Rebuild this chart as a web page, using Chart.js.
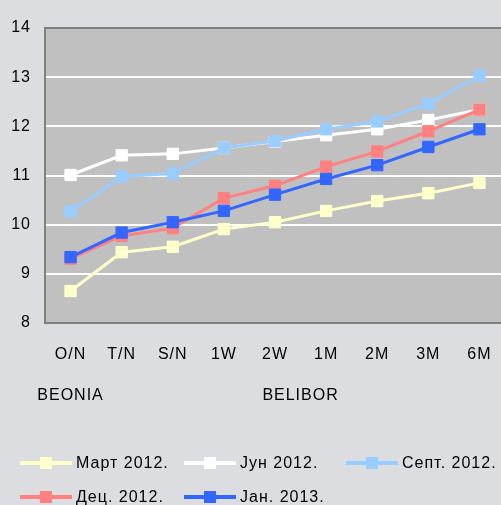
<!DOCTYPE html>
<html>
<head>
<meta charset="utf-8">
<script src="https://cdn.jsdelivr.net/npm/chart.js@4"></script>
<style>
  html, body { margin: 0; padding: 0; background: #dcdde0; overflow: hidden; }
  #wrap { width: 501px; height: 505px; overflow: hidden; }
</style>
</head>
<body>
<div id="wrap"><canvas id="chart" width="514" height="505"></canvas></div>
<script>
// категорије (рочност)
const categories = ['O/N', 'T/N', 'S/N', '1W', '2W', '1M', '2M', '3M', '6M'];

// групе испод осе
const groupLabels = ['BEONIA', 'BELIBOR'];
const groupStart = [0, 1];
const groupEnd = [0, 8];

// серије
const seriesNames = ['Март 2012.', 'Јун 2012.', 'Септ. 2012.', 'Дец. 2012.', 'Јан. 2013.'];
const mart2012 = [8.65, 9.44, 9.55, 9.91, 10.05, 10.28, 10.48, 10.64, 10.85];
const jun2012  = [11.01, 11.41, 11.44, 11.56, 11.69, 11.82, 11.94, 12.13, 12.34];
const sept2012 = [10.27, 10.98, 11.04, 11.56, 11.70, 11.94, 12.10, 12.46, 13.03];
const dec2012  = [9.31, 9.77, 9.93, 10.54, 10.79, 11.18, 11.49, 11.90, 12.34];
const jan2013  = [9.34, 9.84, 10.05, 10.28, 10.61, 10.93, 11.21, 11.58, 11.94];

// ос Y
const yMin = 8;
const yMax = 14;
const yStep = 1;

const colors = ['#ffffcc', '#ffffff', '#99ccff', '#ff8080', '#3366ff'];
const seriesData = [mart2012, jun2012, sept2012, dec2012, jan2013];

// позиције легенде
const legendPos = [[20, 463], [184, 463], [346, 463], [20, 497], [184, 497]];

const FONT = { family: 'Liberation Sans, Arial, sans-serif', size: 16 };

// позадина и слова
const bgPlugin = {
    id: 'bg',
    beforeDraw(chart) {
        const { ctx, chartArea } = chart;
        ctx.letterSpacing = '1px';
        ctx.save();
        ctx.fillStyle = '#c0c0c0';
        ctx.fillRect(chartArea.left, chartArea.top, chart.width - chartArea.left, chartArea.bottom - chartArea.top);
        ctx.restore();
    },
    afterDraw(chart) {
        const { ctx } = chart;
        const x = chart.scales.x;
        ctx.save();
        ctx.font = '16px ' + FONT.family;
        ctx.fillStyle = '#000';
        ctx.textBaseline = 'middle';
        ctx.textAlign = 'center';

        // групе
        groupLabels.forEach((label, i) => {
            const cx = (x.getPixelForValue(groupStart[i]) + x.getPixelForValue(groupEnd[i])) / 2;
            ctx.fillText(label, cx, 396);
        });

        // легенда
        ctx.textAlign = 'left';
        chart.data.datasets.forEach((ds, i) => {
            const [lx, ly] = legendPos[i];
            ctx.strokeStyle = ds.borderColor;
            ctx.lineWidth = 4;
            ctx.beginPath();
            ctx.moveTo(lx, ly);
            ctx.lineTo(lx + 52, ly);
            ctx.stroke();
            ctx.fillStyle = ds.borderColor;
            ctx.fillRect(lx + 20, ly - 6, 12, 12);
            ctx.fillStyle = '#000';
            ctx.fillText(ds.label, lx + 56, ly + 1);
        });
        ctx.restore();
    }
};

new Chart(document.getElementById('chart'), {
    type: 'line',
    data: {
        labels: categories,
        datasets: seriesNames.map((name, i) => ({
            label: name,
            data: seriesData[i],
            borderColor: colors[i],
            backgroundColor: colors[i],
            pointBackgroundColor: colors[i],
            pointBorderColor: colors[i],
            borderWidth: 3,
            pointStyle: 'rect',
            pointRadius: 8,
            pointBorderWidth: 1,
            tension: 0,
            order: seriesNames.length - i
        }))
    },
    options: {
        responsive: false,
        animation: false,
        devicePixelRatio: 1,
        layout: { padding: { top: 28, bottom: 140, left: 0, right: 0 } },
        plugins: {
            legend: { display: false },
            tooltip: { enabled: false }
        },
        scales: {
            x: {
                offset: true,
                grid: { display: false },
                border: { display: false },
                ticks: { font: FONT, color: '#000', padding: 14, maxRotation: 0, autoSkip: false },
                afterFit(s) { s.height = 42; }
            },
            y: {
                min: yMin,
                max: yMax,
                ticks: { stepSize: yStep, font: FONT, color: '#000', padding: 14 },
                grid: {
                    drawTicks: false,
                    lineWidth: 2,
                    color: c => (c.tick.value === yMin || c.tick.value === yMax) ? '#808080' : '#ffffff'
                },
                border: { display: true, color: '#808080', width: 2 },
                afterFit(s) { s.width = 45; }
            }
        }
    },
    plugins: [bgPlugin]
});
</script>
</body>
</html>
